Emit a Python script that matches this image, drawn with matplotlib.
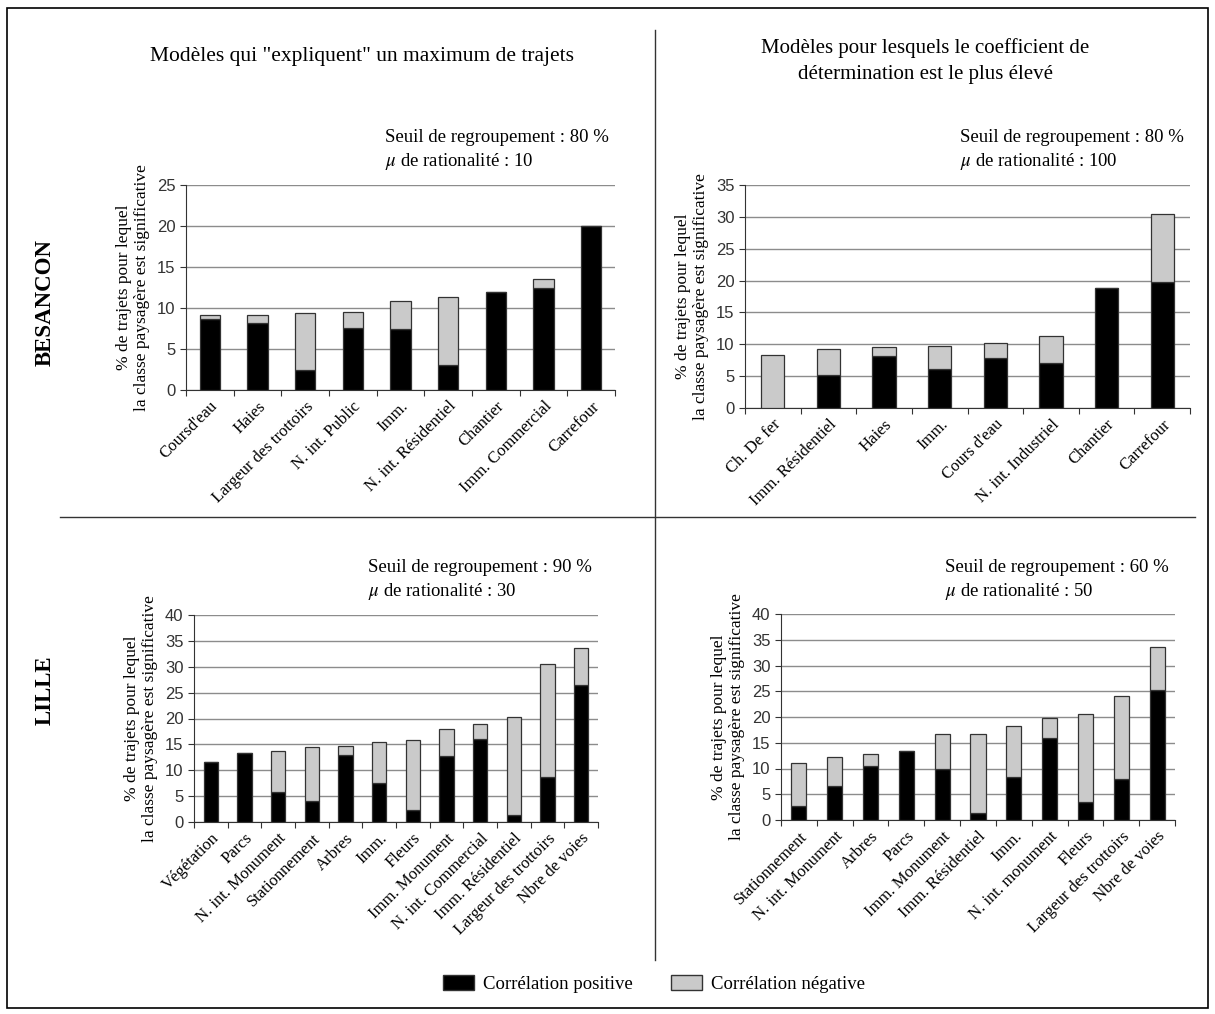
import numpy as np
import matplotlib
matplotlib.use("Agg")
import matplotlib.pyplot as plt
from matplotlib.lines import Line2D
from matplotlib.patches import Rectangle, Patch

# 1. Données
# -----------------------------
cats_tl = ["Coursd'eau", "Haies", "Largeur des trottoirs", "N. int. Public", "Imm.",
           "N. int. Résidentiel", "Chantier", "Imm. Commercial", "Carrefour"]
pos_tl = [8.6, 8.2, 2.5, 7.6, 7.4, 3.0, 11.9, 12.4, 20.0]
neg_tl = [0.6, 1.0, 6.95, 1.9, 3.5, 8.4, 0.0, 1.15, 0.0]

cats_tr = ["Ch. De fer", "Imm. Résidentiel", "Haies", "Imm.", "Cours d'eau",
           "N. int. Industriel", "Chantier", "Carrefour"]
pos_tr = [0.0, 5.2, 8.1, 6.15, 7.9, 7.1, 18.9, 19.8]
neg_tr = [8.25, 4.1, 1.5, 3.65, 2.3, 4.2, 0.0, 10.6]

cats_bl = ["Végétation", "Parcs", "N. int. Monument", "Stationnement", "Arbres", "Imm.",
           "Fleurs", "Imm. Monument", "N. int. Commercial", "Imm. Résidentiel",
           "Largeur des trottoirs", "Nbre de voies"]
pos_bl = [11.5, 13.4, 5.8, 4.1, 13.0, 7.5, 2.4, 12.8, 16.1, 1.3, 8.7, 26.5]
neg_bl = [0.0, 0.0, 8.0, 10.4, 1.7, 7.9, 13.5, 5.1, 2.9, 19.0, 21.8, 7.1]

cats_br = ["Stationnement", "N. int. Monument", "Arbres", "Parcs", "Imm. Monument",
           "Imm. Résidentiel", "Imm.", "N. int. monument", "Fleurs",
           "Largeur des trottoirs", "Nbre de voies"]
pos_br = [2.7, 6.6, 10.5, 13.4, 9.95, 1.3, 8.3, 16.0, 3.55, 7.95, 25.3]
neg_br = [8.4, 5.6, 2.3, 0.0, 6.7, 15.4, 9.9, 3.8, 16.95, 16.15, 8.3]

seuils = ["80", "80", "90", "60"]
mus = ["10", "100", "30", "50"]
ymax = [25, 35, 40, 40]

titre_g = 'Modèles qui "expliquent" un maximum de trajets'
titre_d = "Modèles pour lesquels le coefficient de\ndétermination est le plus élevé"
ylab = "% de trajets pour lequel\nla classe paysagère est significative"

W, H = 1215, 1014
SERIF = "Liberation Serif"
SANS = "Liberation Sans"


def fx(x):
    return x / W


def fy(y):
    return 1 - y / H


def panel(fig, box, cats, pos, neg, top, seuil, mu):
    x0, y0, x1, y1 = box
    ax = fig.add_axes([fx(x0), fy(y1), fx(x1) - fx(x0), fy(y0) - fy(y1)])
    x = np.arange(len(cats))
    b1 = ax.bar(x, pos, width=0.42, color="black", edgecolor="#333333", linewidth=0.9, zorder=3)
    b2 = ax.bar(x, neg, bottom=pos, width=0.42, color="#cacaca", edgecolor="#333333",
                linewidth=0.9, zorder=3)
    ax.set_xlim(-0.5, len(cats) - 0.5)
    ax.set_ylim(0, top)
    ax.set_yticks(np.arange(0, top + 1, 5))
    ax.set_xticks(np.arange(len(cats) + 1) - 0.5)
    ax.set_xticklabels([])
    ax.set_xticks(x, minor=True)
    ax.set_xticklabels(cats, minor=True, rotation=45, ha="right", rotation_mode="anchor",
                       family=SERIF, fontsize=12)
    ax.tick_params(axis="x", which="minor", length=0, pad=6)
    ax.tick_params(axis="x", which="major", length=4, direction="out", color="#333333")
    ax.tick_params(axis="y", length=4, direction="out", color="#333333", labelsize=12)
    for lab in ax.get_yticklabels():
        lab.set_family(SANS)
        lab.set_color("#333333")
    ax.yaxis.grid(True, color="#8c8c8c", linewidth=1.0)
    ax.set_axisbelow(True)
    for s in ["top", "right"]:
        ax.spines[s].set_visible(False)
    for s in ["left", "bottom"]:
        ax.spines[s].set_color("#333333")
    ax.set_ylabel(ylab, family=SERIF, fontsize=12.5, linespacing=1.15, labelpad=5)
    fig.text(fx(x1 - 230), fy(y0 - 47), "Seuil de regroupement : " + seuil + " %",
             family=SERIF, fontsize=13.5, ha="left", va="center")
    fig.text(fx(x1 - 230), fy(y0 - 23), "$\\mu$ de rationalité : " + mu,
             family=SERIF, fontsize=13.5, ha="left", va="center")
    return b1, b2


fig = plt.figure(figsize=(W / 100, H / 100), dpi=100)
plt.rcParams["mathtext.fontset"] = "stix"

panel(fig, (186, 185, 615, 390), cats_tl, pos_tl, neg_tl, ymax[0], seuils[0], mus[0])
panel(fig, (745, 185, 1190, 408), cats_tr, pos_tr, neg_tr, ymax[1], seuils[1], mus[1])
panel(fig, (194, 615, 598, 822), cats_bl, pos_bl, neg_bl, ymax[2], seuils[2], mus[2])
panel(fig, (781, 614, 1175, 820), cats_br, pos_br, neg_br, ymax[3], seuils[3], mus[3])

# titres et lignes de séparation
fig.text(fx(362), fy(57), titre_g, family=SERIF, fontsize=15.5, ha="center", va="center")
fig.text(fx(925), fy(61), titre_d, family=SERIF, fontsize=15, ha="center", va="center",
         linespacing=1.45)
fig.text(fx(45), fy(302), "BESANCON", family=SERIF, fontsize=16.5, weight="bold",
         rotation=90, ha="center", va="center")
fig.text(fx(45), fy(690), "LILLE", family=SERIF, fontsize=16.5, weight="bold",
         rotation=90, ha="center", va="center")

fig.add_artist(Line2D([fx(655), fx(655)], [fy(30), fy(960)], color="#333333", lw=1.0))
fig.add_artist(Line2D([fx(60), fx(1195)], [fy(517), fy(517)], color="#333333", lw=1.0))
fig.add_artist(Rectangle((fx(7), fy(1008)), fx(1208) - fx(7), fy(8) - fy(1008),
                         fill=False, edgecolor="black", lw=1.2))

# légende
handles = [Patch(facecolor="black", edgecolor="#333333", label="Corrélation positive"),
           Patch(facecolor="#cacaca", edgecolor="#333333", label="Corrélation négative")]
fig.legend(handles=handles, loc="center", bbox_to_anchor=(fx(654), fy(984)), ncol=2,
           frameon=False, prop={"family": SERIF, "size": 13.5}, handlelength=1.65,
           handleheight=0.85, columnspacing=2.0, handletextpad=0.5)

fig.savefig("out.png", dpi=100)
